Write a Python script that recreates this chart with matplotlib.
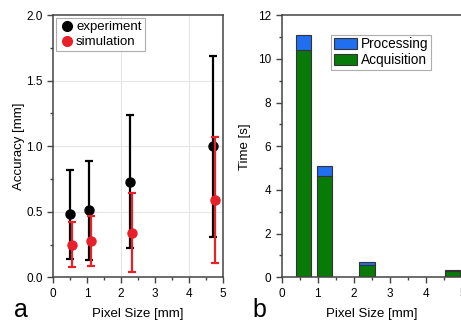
import matplotlib
matplotlib.use("Agg")
import matplotlib.pyplot as plt
import numpy as np
from matplotlib.ticker import MultipleLocator
from matplotlib.lines import Line2D

plt.rcParams['font.family'] = ['Liberation Sans', 'DejaVu Sans']

# === panel a: accuracy ===
exp_x = [0.50, 1.05, 2.27, 4.70]
exp_y = [0.48, 0.51, 0.73, 1.00]
exp_lo = [0.14, 0.13, 0.22, 0.31]
exp_hi = [0.82, 0.89, 1.24, 1.69]

sim_x = [0.55, 1.12, 2.32, 4.75]
sim_y = [0.25, 0.28, 0.34, 0.59]
sim_lo = [0.08, 0.09, 0.04, 0.11]
sim_hi = [0.42, 0.47, 0.64, 1.07]

# === panel b: time ===
bar_x = [0.60, 1.18, 2.36, 4.72]
acquisition = [10.42, 4.65, 0.56, 0.30]
processing = [0.65, 0.44, 0.14, 0.03]

RED = "#e8202a"
BLUE = "#1f6ff0"
GREEN = "#087a08"
SPINE = "#444444"

fig = plt.figure(figsize=(4.61, 3.21), dpi=100)
axa = fig.add_axes([0.115, 0.136, 0.369, 0.817])
axb = fig.add_axes([0.611, 0.136, 0.392, 0.817])


def style_axes(ax):
    for s in ax.spines.values():
        s.set_color(SPINE)
        s.set_linewidth(1.1)
    ax.tick_params(which="both", direction="out", color=SPINE, labelsize=8.5,
                   top=False, right=False)
    ax.tick_params(which="major", length=4, width=1)
    ax.tick_params(which="minor", length=2.5, width=1)
    ax.xaxis.set_major_locator(MultipleLocator(1))
    ax.xaxis.set_minor_locator(MultipleLocator(0.5))
    ax.set_xlim(0, 5)
    ax.set_xlabel("Pixel Size [mm]", fontsize=9.5, labelpad=6)


# --- a ---
style_axes(axa)
axa.set_ylim(0, 2)
axa.yaxis.set_major_locator(MultipleLocator(0.5))
axa.yaxis.set_minor_locator(MultipleLocator(0.25))
axa.yaxis.set_major_formatter(matplotlib.ticker.FormatStrFormatter("%.1f"))
for v in [0.5, 1.0, 1.5]:
    axa.axhline(v, color="#e6e6e6", lw=0.8, zorder=0)
for v in [2, 4]:
    axa.axvline(v, color="#e6e6e6", lw=0.8, zorder=0)

ey = np.array(exp_y)
axa.errorbar(exp_x, exp_y, yerr=[ey - np.array(exp_lo), np.array(exp_hi) - ey],
             fmt="o", color="black", ms=6.5, elinewidth=1.6, capsize=3,
             capthick=1.6, zorder=3)
sy = np.array(sim_y)
axa.errorbar(sim_x, sim_y, yerr=[sy - np.array(sim_lo), np.array(sim_hi) - sy],
             fmt="o", color=RED, ms=6.5, elinewidth=1.6, capsize=3,
             capthick=1.6, zorder=4)
axa.set_ylabel("Accuracy [mm]", fontsize=9.5, labelpad=1)
handles_a = [Line2D([], [], ls="", marker="o", color="black", ms=7),
             Line2D([], [], ls="", marker="o", color=RED, ms=7)]
leg = axa.legend(handles_a, ["experiment", "simulation"], loc="upper left",
                 fontsize=9.5, frameon=True, fancybox=False,
                 handletextpad=0.1, borderpad=0.25, labelspacing=0.2,
                 borderaxespad=0.2, handlelength=1.2)
leg.get_frame().set_edgecolor("#999999")
leg.get_frame().set_linewidth(0.8)

# --- b ---
style_axes(axb)
axb.set_ylim(0, 12)
axb.yaxis.set_major_locator(MultipleLocator(2))
axb.yaxis.set_minor_locator(MultipleLocator(1))
axb.bar(bar_x, acquisition, width=0.42, color=GREEN, edgecolor="#333333",
        lw=0.8, label="Acquisition", zorder=2)
axb.bar(bar_x, processing, width=0.42, bottom=acquisition, color=BLUE,
        edgecolor="#333333", lw=0.8, label="Processing", zorder=2)
axb.set_ylabel("Time [s]", fontsize=9.5, labelpad=5)
handles, labels = axb.get_legend_handles_labels()
leg2 = axb.legend(handles[::-1], labels[::-1], loc="upper left",
                  bbox_to_anchor=(0.275, 0.925), fontsize=9.8, frameon=True,
                  fancybox=False, handletextpad=0.25, borderpad=0.2,
                  labelspacing=0.1, handlelength=1.7, handleheight=0.85,
                  borderaxespad=0)
leg2.get_frame().set_edgecolor("#999999")
leg2.get_frame().set_linewidth(0.8)

# panel letters
fig.text(0.03, 0.012, "a", fontsize=18)
fig.text(0.548, 0.012, "b", fontsize=18)

fig.savefig("out.png", dpi=100)
